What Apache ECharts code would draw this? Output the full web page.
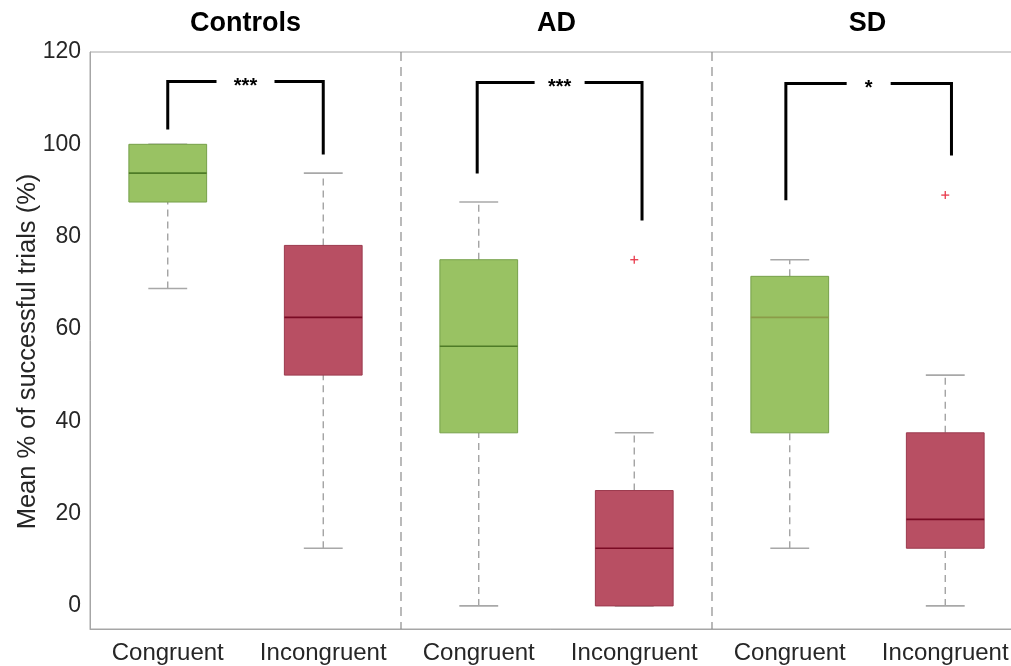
<!DOCTYPE html>
<html><head><meta charset="utf-8">
<script src="https://cdn.jsdelivr.net/npm/echarts@6/dist/echarts.min.js"></script>
<style>html,body{margin:0;padding:0;background:#fff}#c{width:1011px;height:666px}</style>
</head><body><div id="c"></div>
<script>
// ---- data ----
const groups = ['Controls', 'AD', 'SD'];
const categories = ['Congruent', 'Incongruent', 'Congruent', 'Incongruent', 'Congruent', 'Incongruent'];
const whiskerLow  = [68.75, 12.5, 0,     0,    12.5, 0];
const q1          = [87.5,  50,   37.5,  0,    37.5, 12.5];
const median      = [93.75, 62.5, 56.25, 12.5, 62.5, 18.75];
const q3          = [100,   78.1, 75,    25,   71.4, 37.5];
const whiskerHigh = [100,   93.75, 87.5, 37.5, 75,   50];
const outlierCat  = [3, 5];
const outlierVal  = [75, 89];
const yTicks = [0, 20, 40, 60, 80, 100, 120];
const sigLabels = ['***', '***', '*'];
const bracketTop   = [113.6, 113.4, 113.2];
const bracketLeft  = [103.2, 93.7, 87.9];
const bracketRight = [97.8, 83.5, 97.6];

// ---- layout / style tweaks (not data) ----
const bracketShiftL = [0.0, -0.01, -0.025];
const bracketShiftR = [0.0, 0.05, 0.04];
const bracketGapHalf = [29, 25, 22];
const medianColors = ['#4e7b27', '#7a0b24', '#4e7b27', '#7a0b24', '#8b9c48', '#7a0b24'];
const FONT = 'Liberation Sans, Arial, Helvetica, sans-serif';

const chart = echarts.init(document.getElementById('c'), null, {renderer: 'canvas'});

const boxData = categories.map((c, i) => [i, whiskerLow[i], q1[i], median[i], q3[i], whiskerHigh[i]]);
const outlierData = outlierCat.map((c, i) => [c, outlierVal[i]]);
const bracketData = groups.map((g, i) => [2 * i, bracketTop[i], bracketLeft[i], bracketRight[i]]);
const dividerData = [[1, 120], [3, 120]];

function renderBox(params, api) {
  const i = api.value(0);
  const band = api.size([1, 0])[0];
  const cx = api.coord([i, 0])[0];
  const y = v => api.coord([i, v])[1];
  const half = band * 0.25, capHalf = band * 0.125;
  const lo = api.value(1), a = api.value(2), m = api.value(3), b = api.value(4), hi = api.value(5);
  const green = i % 2 === 0;
  const wStyle = {stroke: '#9c9c9c', lineWidth: 1.3, lineDash: [7, 5], fill: null};
  const cStyle = {stroke: '#a8a8a8', lineWidth: 1.6, fill: null};
  const ch = [];
  if (hi > b) ch.push({type: 'line', shape: {x1: cx, y1: y(b), x2: cx, y2: y(hi)}, style: wStyle});
  if (lo < a) ch.push({type: 'line', shape: {x1: cx, y1: y(lo), x2: cx, y2: y(a)}, style: wStyle});
  ch.push({type: 'line', shape: {x1: cx - capHalf, y1: y(hi), x2: cx + capHalf, y2: y(hi)}, style: cStyle});
  ch.push({type: 'line', shape: {x1: cx - capHalf, y1: y(lo), x2: cx + capHalf, y2: y(lo)}, style: cStyle});
  ch.push({type: 'rect', shape: {x: cx - half, y: y(b), width: 2 * half, height: y(a) - y(b)},
    style: {fill: green ? '#99c263' : '#b84f63', stroke: green ? '#76a04a' : '#9b3a4e', lineWidth: 1}});
  ch.push({type: 'line', shape: {x1: cx - half, y1: y(m), x2: cx + half, y2: y(m)},
    style: {stroke: medianColors[i], lineWidth: 1.6}});
  return {type: 'group', children: ch};
}

function renderOutlier(params, api) {
  const p = api.coord([api.value(0), api.value(1)]);
  const s = 4;
  const st = {stroke: '#e8394b', lineWidth: 1.3};
  return {type: 'group', children: [
    {type: 'line', shape: {x1: p[0] - s, y1: p[1], x2: p[0] + s, y2: p[1]}, style: st},
    {type: 'line', shape: {x1: p[0], y1: p[1] - s, x2: p[0], y2: p[1] + s}, style: st}
  ]};
}

function renderDivider(params, api) {
  const band = api.size([1, 0])[0];
  const x = api.coord([api.value(0), 0])[0] + band / 2;
  const yT = api.coord([api.value(0), 120])[1];
  const yB = api.coord([api.value(0), -5])[1];
  return {type: 'line', shape: {x1: x, y1: yT, x2: x, y2: yB},
    style: {stroke: '#8c8c8c', lineWidth: 1.2, lineDash: [9, 6]}};
}

function renderBracket(params, api) {
  const gi = params.dataIndex;
  const i = api.value(0);
  const band = api.size([1, 0])[0];
  const xl = api.coord([i, 0])[0] + bracketShiftL[gi] * band;
  const xr = api.coord([i + 1, 0])[0] + bracketShiftR[gi] * band;
  const yt = api.coord([i, api.value(1)])[1];
  const yl = api.coord([i, api.value(2)])[1];
  const yr = api.coord([i, api.value(3)])[1];
  const mid = (xl + xr) / 2;
  const g = bracketGapHalf[gi];
  const st = {stroke: '#000', lineWidth: 3, fill: null, lineJoin: 'miter'};
  return {type: 'group', children: [
    {type: 'polyline', shape: {points: [[xl, yl], [xl, yt], [mid - g, yt]]}, style: st},
    {type: 'polyline', shape: {points: [[mid + g, yt], [xr, yt], [xr, yr]]}, style: st},
    {type: 'text', x: mid, y: yt + 5, style: {text: sigLabels[gi], fill: '#000', font: 'bold 20px ' + FONT,
      textAlign: 'center', textVerticalAlign: 'middle'}}
  ]};
}

chart.setOption({
  animation: false,
  backgroundColor: '#fff',
  grid: {left: 90, width: 933, top: 52, height: 577, show: true, borderColor: '#a6a6a6', borderWidth: 1,
    outerBoundsMode: 'none', containLabel: false},
  xAxis: [{
    type: 'category', data: categories, position: 'bottom',
    axisLine: {show: true, onZero: false, lineStyle: {color: '#a6a6a6'}}, axisTick: {show: false},
    axisLabel: {fontSize: 24, color: '#262626', fontFamily: FONT, margin: 12, interval: 0},
    splitLine: {show: false}
  }, {
    type: 'category', data: groups, position: 'top',
    axisLine: {show: false, onZero: false}, axisTick: {show: false},
    axisLabel: {fontSize: 27, fontWeight: 'bold', color: '#000', fontFamily: FONT, margin: 15, interval: 0},
    splitLine: {show: false}
  }],
  yAxis: {
    type: 'value', min: -5, max: 120, interval: 5,
    axisLine: {show: true, lineStyle: {color: '#a6a6a6'}}, axisTick: {show: false}, splitLine: {show: false},
    axisLabel: {fontSize: 23, color: '#262626', fontFamily: FONT, margin: 9,
      formatter: v => yTicks.indexOf(v) >= 0 ? String(v) : ''},
    name: 'Mean % of successful trials (%)', nameLocation: 'middle', nameGap: 49, nameMoveOverlap: false,
    nameTextStyle: {fontSize: 25.5, color: '#262626', fontFamily: FONT, padding: [0, 22, 0, 0]}
  },
  series: [
    {type: 'custom', renderItem: renderDivider, data: dividerData, encode: {x: 0, y: 1}, clip: false, silent: true, z: 1},
    {type: 'custom', renderItem: renderBox, data: boxData, encode: {x: 0, y: [1, 2, 3, 4, 5]}, z: 2},
    {type: 'custom', renderItem: renderOutlier, data: outlierData, encode: {x: 0, y: 1}, z: 3},
    {type: 'custom', renderItem: renderBracket, data: bracketData, encode: {x: 0, y: [1, 2, 3]}, clip: false, z: 4}
  ]
});
</script></body></html>
